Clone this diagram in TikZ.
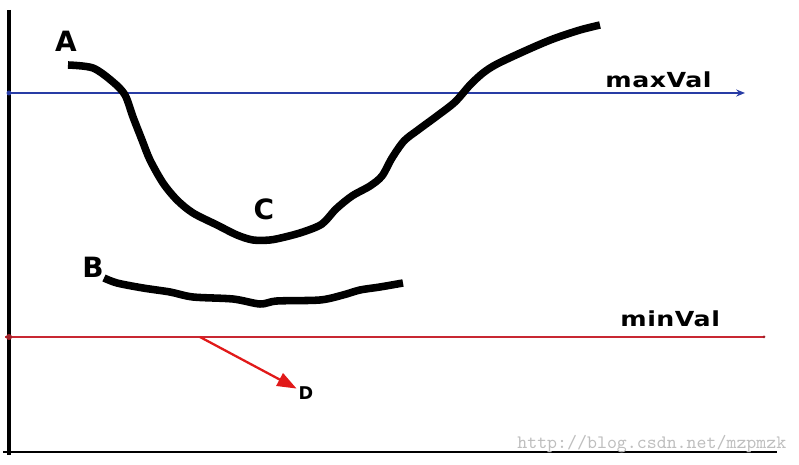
\documentclass[tikz,border=0pt]{standalone}
\usepackage{fontspec}
\usepackage{tikz}
\usetikzlibrary{arrows.meta, positioning}
\newfontfamily\markfont{DejaVu Sans}
\newfontfamily\valfont{DejaVu Sans}[LetterSpace=2]
\definecolor{maxblue}{RGB}{40,60,165}
\definecolor{minred}{RGB}{200,40,50}
\definecolor{arrowred}{RGB}{225,25,25}
\definecolor{markgray}{RGB}{190,190,190}

\begin{document}
\begin{tikzpicture}[x=0.02cm, y=-0.02cm,
  curve/.style={line width=4.3pt, line join=round, smooth, tension=0.5},
  letter/.style={font=\markfont\bfseries\fontsize{15.9}{18}\selectfont, anchor=base, inner sep=0pt},
  vallabel/.style={font=\valfont\bfseries\fontsize{11.8}{14}\selectfont, anchor=base west, inner sep=0pt, xscale=1.22}]
  \useasboundingbox (0,0) rectangle (799,465);
  \draw[line width=1.4pt] (3,452) -- (777,452);
  \draw[line width=2pt] (9,10) -- (9,455);
  \draw[maxblue, line width=1.2pt, -{Stealth[length=5pt,width=4pt]}] (9,93) -- (745,93);
  \fill[maxblue] (9,93) circle (2.5);
  \draw[minred, line width=1.7pt] (5,337) -- (764,337);
  \fill[minred!80!black] (9,337) circle (3);
  \fill[minred!80!black] (764,337) circle (1.5);
  \draw[curve] plot coordinates {(68,65) (93,68) (113,82) (125,95) (133,117) (142,140) (150,160) (163,183) (177,200) (193,213) (217,225) (237,235) (253,240) (270,240) (285,237) (303,232) (322,224) (336,209) (352,196) (370,186) (382,176) (392,158) (404,141) (418,130) (437,116) (455,102) (470,85) (483,73) (497,64) (527,50) (553,39) (580,30) (600,25)};
  \draw[curve] plot coordinates {(104,278) (117,283) (143,288) (170,292) (193,297) (233,299) (260,304) (277,301) (320,300) (343,295) (360,290) (380,287) (403,283)};
  \node[letter] (A) at (66,52) {A};
  \node[letter] (B) at (93,278) {B};
  \node[letter] (C) at (264,220) {C};
  \node[vallabel] (maxval) at (605,88) {maxVal};
  \node[vallabel] (minval) at (620,327) {minVal};
  \node[font=\markfont\bfseries\fontsize{10}{12}\selectfont, anchor=base, inner sep=1pt] (D) at (306,400) {D};
  \coordinate (dfoot) at (200,337);
  \draw[arrowred, line width=1.3pt, -{Triangle[length=11pt,width=8pt]}] (dfoot) -- (D);
  \node[markgray, font=\ttfamily\fontsize{10.8}{12}\selectfont, anchor=base west, inner sep=0pt] (mark) at (517,449) {http://blog.csdn.net/mzpmzk};
\end{tikzpicture}
\end{document}
